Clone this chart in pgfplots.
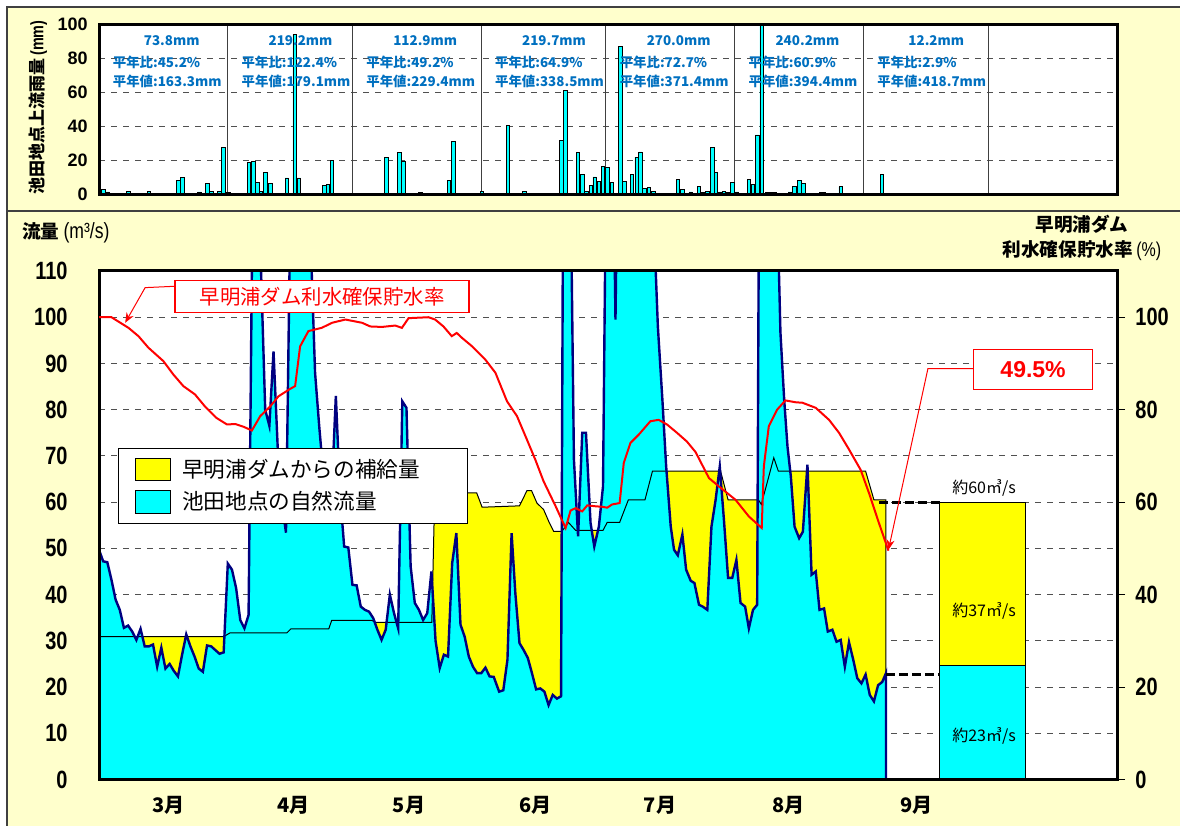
\documentclass[border=0pt]{standalone}
\usepackage{fontspec}
\setmainfont{Noto Sans CJK JP}
\newfontfamily\arial{Liberation Sans}
\newfontfamily\narrow{Liberation Sans}[FakeStretch=0.8]
\usepackage{pgfplots}
\usepackage{pgfplotstable}
\pgfplotsset{compat=1.18}
\usetikzlibrary{arrows.meta}

\definecolor{bgyellow}{RGB}{255,255,204}
\definecolor{flowcyan}{RGB}{0,255,255}
\definecolor{navyline}{RGB}{0,0,128}
\definecolor{supply}{RGB}{255,255,0}
\definecolor{rainblue}{RGB}{0,112,192}
\definecolor{gridgray}{RGB}{80,80,80}

% days counted from 1 March (0) to 31 October (245)
\pgfplotstableread{
d q
0 49.7
1 47.2
2 47.0
3 43.2
4 38.9
5 36.7
6 32.8
7 33.3
8 32.0
9 30.2
10 32.6
11 28.8
12 28.8
13 29.2
14 24.4
15 28.5
16 24.0
17 25.0
18 23.5
19 22.3
20 27.0
21 31.4
22 28.8
23 26.6
24 24.0
25 23.3
26 29.0
27 28.8
28 28.0
29 27.2
30 27.5
31 46.7
32 45.4
33 41.4
34 34.5
35 32.7
36 35.6
37 130
38 125
39 110
40 80
41 76.5
42 92.6
43 72
44 60
45 53.4
46 120
47 150
48 150
49 150
50 140
51 115
52 88
53 76.4
54 66
55 62
56 62
57 83
58 62
59 50.4
60 50.2
61 42.1
62 42.0
63 37.4
64 36.7
65 36.3
66 34.9
67 32.4
68 30.2
69 32.4
70 40.0
71 36.0
72 32.7
73 81.8
74 80.4
75 46.1
76 38.2
77 36.7
78 34.5
79 36.0
80 45.0
81 30.0
82 24.1
83 27.0
84 26.6
85 46.8
86 53.3
87 33.5
88 30.9
89 26.6
90 24.4
91 23.0
92 23.0
93 24.2
94 22.3
95 22.2
96.3 19.0
97.3 19.3
98.3 25.9
99.3 53.3
100.2 40.3
101.2 29.5
102.2 28.0
103.2 26.3
104.2 23.0
105.2 19.5
106.2 19.7
107.2 19.0
108.2 16.1
109.2 18.3
110.2 17.5
111.2 18.0
111.7 130
112.5 150
113.5 130
114.3 69.2
115.3 52.6
116.3 75.0
117.2 75.0
118.3 55.5
119.2 50.4
120.3 54.7
121.3 63.4
122.0 130
123.0 150
123.7 140
124.3 99.5
125.0 150
127.0 170
130.0 160
133.0 140
133.9 112
134.5 98.0
135.6 82.0
136.5 67.7
137.6 54.7
138.4 49.7
139.3 48.5
140.4 53.0
141.3 45.4
142.4 43.0
143.3 42.5
144.4 37.8
145.3 37.4
146.4 36.7
147.4 54.7
148.4 60.5
149.4 67.7
150.4 56.2
151.4 43.6
152.4 43.6
153.4 47.5
154.4 38.2
155.5 37.4
156.4 32.7
157.4 36.7
158.4 37.8
158.8 120
160.0 150
162.0 150
163.5 115
164.0 96.7
164.9 82.2
165.7 72.0
166.5 65.6
167.4 54.7
168.5 52.2
169.4 53.6
170.5 68.1
171.5 44.3
172.5 45.0
173.4 36.7
174.5 37.0
175.4 32.0
176.5 32.4
177.5 29.8
178.5 30.2
179.5 24.4
180.5 29.7
181.5 26.0
182.5 21.9
183.5 20.8
184.5 22.7
185.5 18.3
186.5 16.9
187.5 20.4
188.5 21.1
189.4 23.0
189.4 0
}\naturalflow

% natural flow + supply from the dam
\pgfplotstableread{
d q
0 30.9
30 30.9
31.5 31.7
45.2 31.7
46.2 32.6
55.3 32.6
56 34.4
65.7 34.4
66.5 34.0
80.1 34.0
80.8 62.0
90.9 62.0
92.2 58.9
101.2 59.2
103.0 62.5
104.1 62.5
105.4 59.8
107.0 58.4
108.4 55.5
109.4 53.7
111.4 53.7
113.0 55.6
114.7 53.9
121.3 53.9
122.3 55.6
125.3 55.6
127.4 60.5
131.4 60.5
133.2 66.7
149.6 66.7
151.4 60.5
158.7 60.5
159.4 59.5
162.4 69.6
163.5 66.7
184.5 66.7
186.5 60.5
189.4 60.5
189.4 0
}\targetflow

% storage rate (%)
\pgfplotstableread{
d r
0 100
3 100
7.1 97.7
9.5 95.9
11.9 93.4
15.5 90.5
17.9 87.6
20.3 85.1
23.1 83.3
25.5 80.7
28.3 78.2
30.8 76.8
32.8 76.9
34.8 76.3
36.8 75.5
38.8 78.6
41.2 80.7
43.2 82.9
46.0 84.5
47.2 85.1
48.4 93.7
50.4 97.0
53.6 97.7
56.1 98.8
59.3 99.5
63.3 98.8
65.3 98.0
68.1 97.9
71.3 98.2
72.9 97.7
74.5 99.8
79.3 100
80.9 99.5
82.9 98.0
84.9 95.9
86.1 96.6
87.4 95.5
89.8 93.7
93.0 90.8
95.4 88.0
98.2 81.8
100.6 78.6
103.0 73.5
105.0 69.2
107.0 64.5
109.9 59.1
112.3 54.4
113.5 58.2
114.7 58.7
116.3 58.0
117.5 59.3
119.5 59.1
121.1 59.0
122.3 58.8
123.5 59.5
125.3 59.8
126.3 68.5
127.9 72.8
129.9 74.6
132.7 77.5
134.7 77.8
136.7 76.8
139.1 75.0
141.5 73.1
143.6 70.8
146.8 65.2
149.2 63.4
153.2 60.5
156.4 56.9
159.5 54.4
160.0 67.7
161.2 76.4
163.2 80.0
165.2 82.0
167.7 81.6
169.3 81.5
172.5 80.4
175.7 77.8
178.1 75.0
180.5 71.4
183.3 67.0
185.3 62.0
187.7 55.5
190.0 49.5
}\storage

% daily rainfall (mm)
\pgfplotstableread{
d mm
1.0 2.9
2.1 1.5
7.1 2
12.0 2
19.1 8.3
20.1 10
24.2 1.5
26.1 6.5
27.1 2
29.0 2
30.0 27.8
31.2 1.4
36.1 19
37.2 19.4
38.1 7
39.0 2
40.1 12.8
41.2 6.4
45.2 9.7
47.1 94
48.1 9.7
54.2 5.5
55.1 6
56.1 20
57.2 0.8
64.2 0.6
66.1 0.6
69.2 22
72.3 24.5
73.3 19.4
77.3 1.4
84.2 8.5
85.3 31
92.2 2
93.2 0.8
98.4 40.8
99.4 0.8
102.4 1.6
111.3 32
112.3 61
115.3 24.5
116.4 11.7
117.3 2
118.4 5.4
119.3 10.3
120.3 7.8
121.3 16.7
122.4 16.1
123.4 7.2
124.3 0.6
125.5 87
126.4 7.8
128.3 11.7
129.4 22
130.3 25
131.3 3.5
132.3 4
133.4 2
139.3 9
140.4 2.9
142.4 1.5
144.4 4.5
145.4 1
146.4 2
147.6 27.8
148.5 12.8
149.5 1.5
150.4 2
151.5 1.2
152.5 7
153.5 1.5
156.4 9
157.4 5.8
158.4 35
159.5 150
160.7 1
161.7 1
162.6 1
166.3 1.5
167.3 4.5
168.5 8.2
169.5 6.4
171.5 0.8
173.7 1
174.3 1.4
178.5 4.5
188.4 12
}\rain

\newcommand{\rainfont}{\color{rainblue}\bfseries\fontsize{6.7}{6.7}\selectfont}

\begin{document}
\begin{tikzpicture}
\useasboundingbox (0,0) rectangle (590pt,413pt);
\fill[white] (0,0) rectangle (590pt,413pt);
\fill[bgyellow] (3.5pt,0) rectangle (590pt,409.5pt);
\draw[gray!50!black, line width=1pt] (3.5pt,0) -- (3.5pt,409.5pt) -- (590pt,409.5pt);
\draw[gray!50!black, line width=0.8pt] (3.5pt,307.5pt) -- (590pt,307.5pt);

% rainfall panel
\begin{axis}[
  at={(49.5pt,315.75pt)}, anchor=south west, scale only axis,
  width=509pt, height=85.1pt,
  xmin=0, xmax=245, ymin=0, ymax=100,
  axis background/.style={fill=white},
  axis line style={line width=1.5pt},
  xtick=\empty,
  extra x ticks={31,61,92,122,153,184,214},
  extra x tick labels={},
  extra x tick style={grid=major, major grid style={solid, black!75, line width=0.5pt}},
  ytick={0,20,...,100},
  ymajorgrids,
  major grid style={dashed, gridgray, line width=0.5pt},
  tick style={draw=none},
  /pgf/number format/assume math mode=true,
  yticklabel style={font=\arial\bfseries\fontsize{9}{9}\selectfont, anchor=east, inner sep=0pt, xshift=-5.5pt},
]
\addplot[ybar, bar width=0.85, fill=flowcyan, draw=black, line width=0.4pt] table[x=d, y=mm] {\rain};

\node[font=\rainfont, inner sep=0pt] at (axis cs:17.5,90.4) {73.8mm};
\node[font=\rainfont, inner sep=0pt, anchor=west] at (axis cs:3.25,77.8) {平年比:45.2\%};
\node[font=\rainfont, inner sep=0pt, anchor=west] at (axis cs:3.25,66.3) {平年値:163.3mm};
\node[font=\rainfont, inner sep=0pt] at (axis cs:48.5,90.4) {219.2mm};
\node[font=\rainfont, inner sep=0pt, anchor=west] at (axis cs:34.25,77.8) {平年比:122.4\%};
\node[font=\rainfont, inner sep=0pt, anchor=west] at (axis cs:34.25,66.3) {平年値:179.1mm};
\node[font=\rainfont, inner sep=0pt] at (axis cs:78.5,90.4) {112.9mm};
\node[font=\rainfont, inner sep=0pt, anchor=west] at (axis cs:64.25,77.8) {平年比:49.2\%};
\node[font=\rainfont, inner sep=0pt, anchor=west] at (axis cs:64.25,66.3) {平年値:229.4mm};
\node[font=\rainfont, inner sep=0pt] at (axis cs:109.5,90.4) {219.7mm};
\node[font=\rainfont, inner sep=0pt, anchor=west] at (axis cs:95.25,77.8) {平年比:64.9\%};
\node[font=\rainfont, inner sep=0pt, anchor=west] at (axis cs:95.25,66.3) {平年値:338.5mm};
\node[font=\rainfont, inner sep=0pt] at (axis cs:139.5,90.4) {270.0mm};
\node[font=\rainfont, inner sep=0pt, anchor=west] at (axis cs:125.25,77.8) {平年比:72.7\%};
\node[font=\rainfont, inner sep=0pt, anchor=west] at (axis cs:125.25,66.3) {平年値:371.4mm};
\node[font=\rainfont, inner sep=0pt] at (axis cs:170.5,90.4) {240.2mm};
\node[font=\rainfont, inner sep=0pt, anchor=west] at (axis cs:156.25,77.8) {平年比:60.9\%};
\node[font=\rainfont, inner sep=0pt, anchor=west] at (axis cs:156.25,66.3) {平年値:394.4mm};
\node[font=\rainfont, inner sep=0pt] at (axis cs:201.5,90.4) {12.2mm};
\node[font=\rainfont, inner sep=0pt, anchor=west] at (axis cs:187.25,77.8) {平年比:2.9\%};
\node[font=\rainfont, inner sep=0pt, anchor=west] at (axis cs:187.25,66.3) {平年値:418.7mm};

\draw[line width=1.5pt] (rel axis cs:0,0) rectangle (rel axis cs:1,1);
\end{axis}

% flow panel
\begin{axis}[
  at={(49.5pt,23.25pt)}, anchor=south west, scale only axis,
  width=509pt, height=254.25pt,
  xmin=0, xmax=245, ymin=0, ymax=110,
  axis background/.style={fill=white},
  axis line style={line width=1.5pt},
  xtick={16.7,46.9,74.6,105,135,165.9,196.8},
  xticklabels={3月,4月,5月,6月,7月,8月,9月},
  xticklabel style={font=\bfseries\fontsize{10}{10}\selectfont, anchor=center, yshift=-12.75pt},
  ytick={0,10,...,110},
  ymajorgrids,
  major grid style={dashed, gridgray, line width=0.5pt},
  tick style={draw=none},
  /pgf/number format/assume math mode=true,
  yticklabel style={font=\narrow\bfseries\fontsize{12.5}{12.5}\selectfont, anchor=east, inner sep=0pt, xshift=-15.5pt},
  legend cell align=left,
  legend image code/.code={\draw[#1, draw=black, line width=0.5pt] (0pt,-5.65pt) rectangle (17.7pt,5.65pt);},
  legend style={at={(0.0187,0.6526)}, anchor=north west, draw=black, line width=0.6pt, fill=white,
    font=\fontsize{10.8}{10.8}\selectfont, inner xsep=8.1pt, inner ysep=3.8pt, row sep=2.7pt,
    nodes={inner sep=1.5pt},
    /tikz/every odd column/.append style={column sep=4pt}},
]
\addplot[fill=supply, draw=none] table[x=d, y=q] {\targetflow} \closedcycle;
\addlegendentry{\makebox[133pt][l]{早明浦ダムからの補給量}}
\addplot[fill=flowcyan, draw=none] table[x=d, y=q] {\naturalflow} \closedcycle;
\addlegendentry{\makebox[133pt][l]{池田地点の自然流量}}
\addplot[black, line width=0.5pt, forget plot] table[x=d, y=q] {\targetflow};
\addplot[navyline, line width=1.2pt, forget plot] table[x=d, y=q] {\naturalflow};

% September outlook bar
\addplot[fill=supply, draw=black, line width=0.5pt, forget plot] coordinates {(202.3,0) (202.3,60) (223,60) (223,0)} \closedcycle;
\addplot[fill=flowcyan, draw=black, line width=0.5pt, forget plot] coordinates {(202.3,0) (202.3,24.7) (223,24.7) (223,0)} \closedcycle;
\addplot[black, line width=1.5pt, dash pattern=on 4.5pt off 2pt, forget plot] coordinates {(187.8,60) (202.3,60)};
\addplot[black, line width=1.5pt, dash pattern=on 4.5pt off 2pt, forget plot] coordinates {(189.4,22.8) (202.3,22.8)};
\node[font=\fontsize{8}{8}\selectfont, inner sep=0pt] at (axis cs:213,63.1) {約60㎥/s};
\node[font=\fontsize{8}{8}\selectfont, inner sep=0pt] at (axis cs:213,36.5) {約37㎥/s};
\node[font=\fontsize{8}{8}\selectfont, inner sep=0pt] at (axis cs:213,9.5) {約23㎥/s};

\draw[line width=1.5pt] (rel axis cs:0,0) rectangle (rel axis cs:1,1);
\end{axis}

% storage rate on the right-hand scale
\begin{axis}[
  at={(49.5pt,23.25pt)}, anchor=south west, scale only axis,
  width=509pt, height=254.25pt,
  xmin=0, xmax=245, ymin=0, ymax=110,
  axis x line=none, axis y line*=right,
  y axis line style={line width=1.5pt, -},
  ytick={0,20,...,100},
  tick align=outside, major tick length=4pt,
  ytick style={black, line width=0.5pt},
  /pgf/number format/assume math mode=true,
  yticklabel style={font=\narrow\bfseries\fontsize{12.5}{12.5}\selectfont, anchor=west, inner sep=0pt, xshift=5pt},
]
\addplot[red, line width=1pt] table[x=d, y=r] {\storage};
\addplot[red, line width=0.5pt, -{Stealth[length=5pt, width=4pt]}] coordinates {(18.3,106.7) (11.1,106.4) (6.3,98.8)};
\addplot[red, line width=0.5pt, -{Stealth[length=5pt, width=4pt]}] coordinates {(210.6,88.9) (199.5,88.9) (190,49.7)};
\node[draw=red, line width=0.7pt, fill=white, text=red, font=\fontsize{10.2}{10.2}\selectfont,
  minimum width=147pt, minimum height=16pt, inner sep=0pt] at (axis cs:53.7,104.5) {早明浦ダム利水確保貯水率};
\node[draw=red, line width=0.7pt, fill=white, text=red, font=\arial\bfseries\fontsize{11.5}{11.5}\selectfont,
  minimum width=59.5pt, minimum height=20pt, inner sep=0pt] at (axis cs:224.8,88.7) {49.5\%};
\end{axis}

% outer titles
\node[anchor=west, inner sep=0pt] at (11pt,296.5pt)
  {{\bfseries\fontsize{9.3}{9.3}\selectfont 流量}\hspace{2pt}{\narrow\fontsize{11}{11}\selectfont (m³/s)}};
\node[align=center, inner sep=0pt, font=\bfseries\fontsize{9.3}{12.65}\selectfont] at (541pt,294pt)
  {早明浦ダム\\利水確保貯水率{\narrow\mdseries\fontsize{10}{10}\selectfont\,(\%)}};
\node[rotate=90, inner sep=0pt, font=\bfseries\fontsize{8.5}{8.5}\selectfont] at (19pt,359.25pt)
  {池田地点上流雨量{\narrow\fontsize{9}{9}\selectfont\,(mm)}};
\end{tikzpicture}
\end{document}
